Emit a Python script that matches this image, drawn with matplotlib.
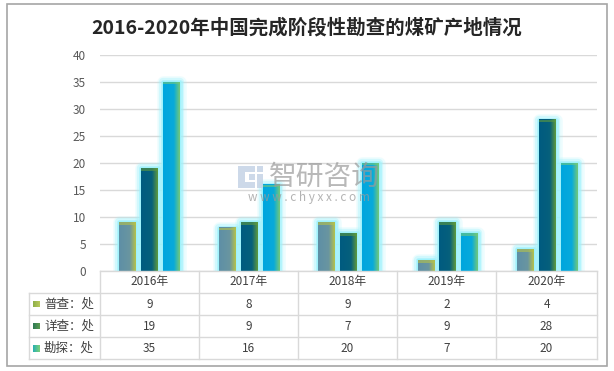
import matplotlib
matplotlib.use("Agg")
import matplotlib.pyplot as plt
import numpy as np
from matplotlib.patches import Rectangle
from matplotlib.colors import LinearSegmentedColormap
from matplotlib.lines import Line2D

plt.rcParams['font.family'] = ['Noto Sans CJK SC', 'DejaVu Sans']

title = "2016-2020年中国完成阶段性勘查的煤矿产地情况"
years = ["2016年", "2017年", "2018年", "2019年", "2020年"]
series_names = ["普查：处", "详查：处", "勘探：处"]
puca = [9, 8, 9, 2, 4]
xiangcha = [19, 9, 7, 9, 28]
kantan = [35, 16, 20, 7, 20]
series = [puca, xiangcha, kantan]
yticks = [0, 5, 10, 15, 20, 25, 30, 35, 40]

# gradient colors (left -> right)
grad_colors = [
    ["#5e8fa6", "#6a96a0", "#b5c24a"],
    ["#005b80", "#06607c", "#5e9a3e"],
    ["#00a6de", "#08aadb", "#74c878"],
]
key_colors = [["#8fb04a", "#b8c85a"], ["#2f7a55", "#5a9a50"], ["#2ab0b0", "#7ad07a"]]

W, H = 614, 371
fig = plt.figure(figsize=(W / 100, H / 100), dpi=100)
fx = lambda x: x / W
fy = lambda y: 1 - y / H

# outer border
fig.patches.append(Rectangle((fx(7), fy(366)), fx(607) - fx(7), fy(4) - fy(366),
                             transform=fig.transFigure, fill=False,
                             edgecolor="#a6a6a6", linewidth=1.2))

fig.text(fx(307), fy(28), title, ha="center", va="center",
         fontsize=14, fontweight="bold", color="#262626")

ax_l, ax_r, ax_t, ax_b = 100, 597, 55, 271
ax = fig.add_axes([fx(ax_l), fy(ax_b), fx(ax_r) - fx(ax_l), fy(ax_t) - fy(ax_b)])
ax.set_xlim(-0.5, len(years) - 0.5)
ax.set_ylim(0, 40)
ax.set_yticks(yticks)
ax.set_yticklabels([str(v) for v in yticks], fontsize=8.5, color="#595959")
ax.tick_params(axis="y", length=0, pad=10)
ax.set_xticks([])
for s in ax.spines.values():
    s.set_visible(False)
ax.grid(axis="y", color="#d9d9d9", linewidth=1)
ax.set_axisbelow(True)
ax.patch.set_alpha(0)

bw = 0.17
step = 0.22
x = np.arange(len(years))
for i, vals in enumerate(series):
    cmap = LinearSegmentedColormap.from_list("g%d" % i, grad_colors[i])
    grad = np.tile(np.concatenate([np.linspace(0, 0.45, 60), np.linspace(0.45, 1, 40)]), (50, 1))
    for xi, v in zip(x + (i - 1) * step, vals):
        x0, x1 = xi - bw / 2, xi + bw / 2
        # glow
        for lw, a in [(9, 0.18), (6, 0.35), (3.5, 0.6), (1.5, 0.9)]:
            ax.add_patch(Rectangle((x0, 0), bw, v, fill=False, edgecolor="#9ef2fc",
                                   linewidth=lw, alpha=a, zorder=2, joinstyle="round"))
        ax.imshow(grad, cmap=cmap, extent=(x0, x1, 0, v), aspect="auto",
                  origin="lower", zorder=3, interpolation="bilinear")
        top_h = 0.45
        ax.add_patch(Rectangle((x0, v - top_h), bw, top_h, facecolor=grad_colors[i][2],
                               edgecolor="none", alpha=0.6, zorder=4))
ax.set_xlim(-0.5, len(years) - 0.5)
ax.set_ylim(0, 40)

# watermark
for (xa, ya, w, h) in [(238, 166, 7, 22), (245, 166, 10, 6), (249, 174, 6, 6), (245, 182, 10, 6),
                       (257, 166, 6, 6), (257, 174, 6, 14)]:
    fig.patches.append(Rectangle((fx(xa), fy(ya + h)), fx(w), fy(0) - fy(h),
                                 transform=fig.transFigure, facecolor="#c5d3e6",
                                 edgecolor="none", alpha=0.85))
fig.text(fx(324), fy(177), "智研咨询", ha="center", va="center", fontsize=20,
         color="#9a9a9a", alpha=0.7)
fig.text(fx(309), fy(198), "w w w . c h y x x . c o m", ha="center", va="center",
         fontsize=8.5, color="#9a9a9a", alpha=0.75)

# table
col_edges = [100, 199, 298, 397, 496, 597]
row_edges = [271, 293, 315, 337, 359]
lc = "#d9d9d9"
def hline(y, xa, xb):
    fig.add_artist(Line2D([fx(xa), fx(xb)], [fy(y), fy(y)], transform=fig.transFigure,
                          color=lc, linewidth=1))
def vline(x_, ya, yb):
    fig.add_artist(Line2D([fx(x_), fx(x_)], [fy(ya), fy(yb)], transform=fig.transFigure,
                          color=lc, linewidth=1))
hline(271, 100, 597)
for y in row_edges[1:]:
    hline(y, 29, 597)
vline(29, 293, 359)
for xe in col_edges:
    vline(xe, 271, 359)

for j, yl in enumerate(years):
    cx = (col_edges[j] + col_edges[j + 1]) / 2
    fig.text(fx(cx), fy(282), yl, ha="center", va="center", fontsize=8.5, color="#404040")
for i, (name, vals) in enumerate(zip(series_names, series)):
    cy = (row_edges[i + 1] + row_edges[i + 2]) / 2
    kax = fig.add_axes([fx(33), fy(cy + 3.5), fx(7), fx(7) * W / H])
    kc = LinearSegmentedColormap.from_list("k%d" % i, key_colors[i])
    kax.imshow(np.tile(np.linspace(0, 1, 10), (10, 1)), cmap=kc, aspect="auto")
    kax.axis("off")
    fig.text(fx(44), fy(cy), name, ha="left", va="center", fontsize=9, color="#404040")
    for j, v in enumerate(vals):
        cx = (col_edges[j] + col_edges[j + 1]) / 2
        fig.text(fx(cx), fy(cy), str(v), ha="center", va="center", fontsize=8.5, color="#404040")

fig.savefig("out.png", dpi=100)
